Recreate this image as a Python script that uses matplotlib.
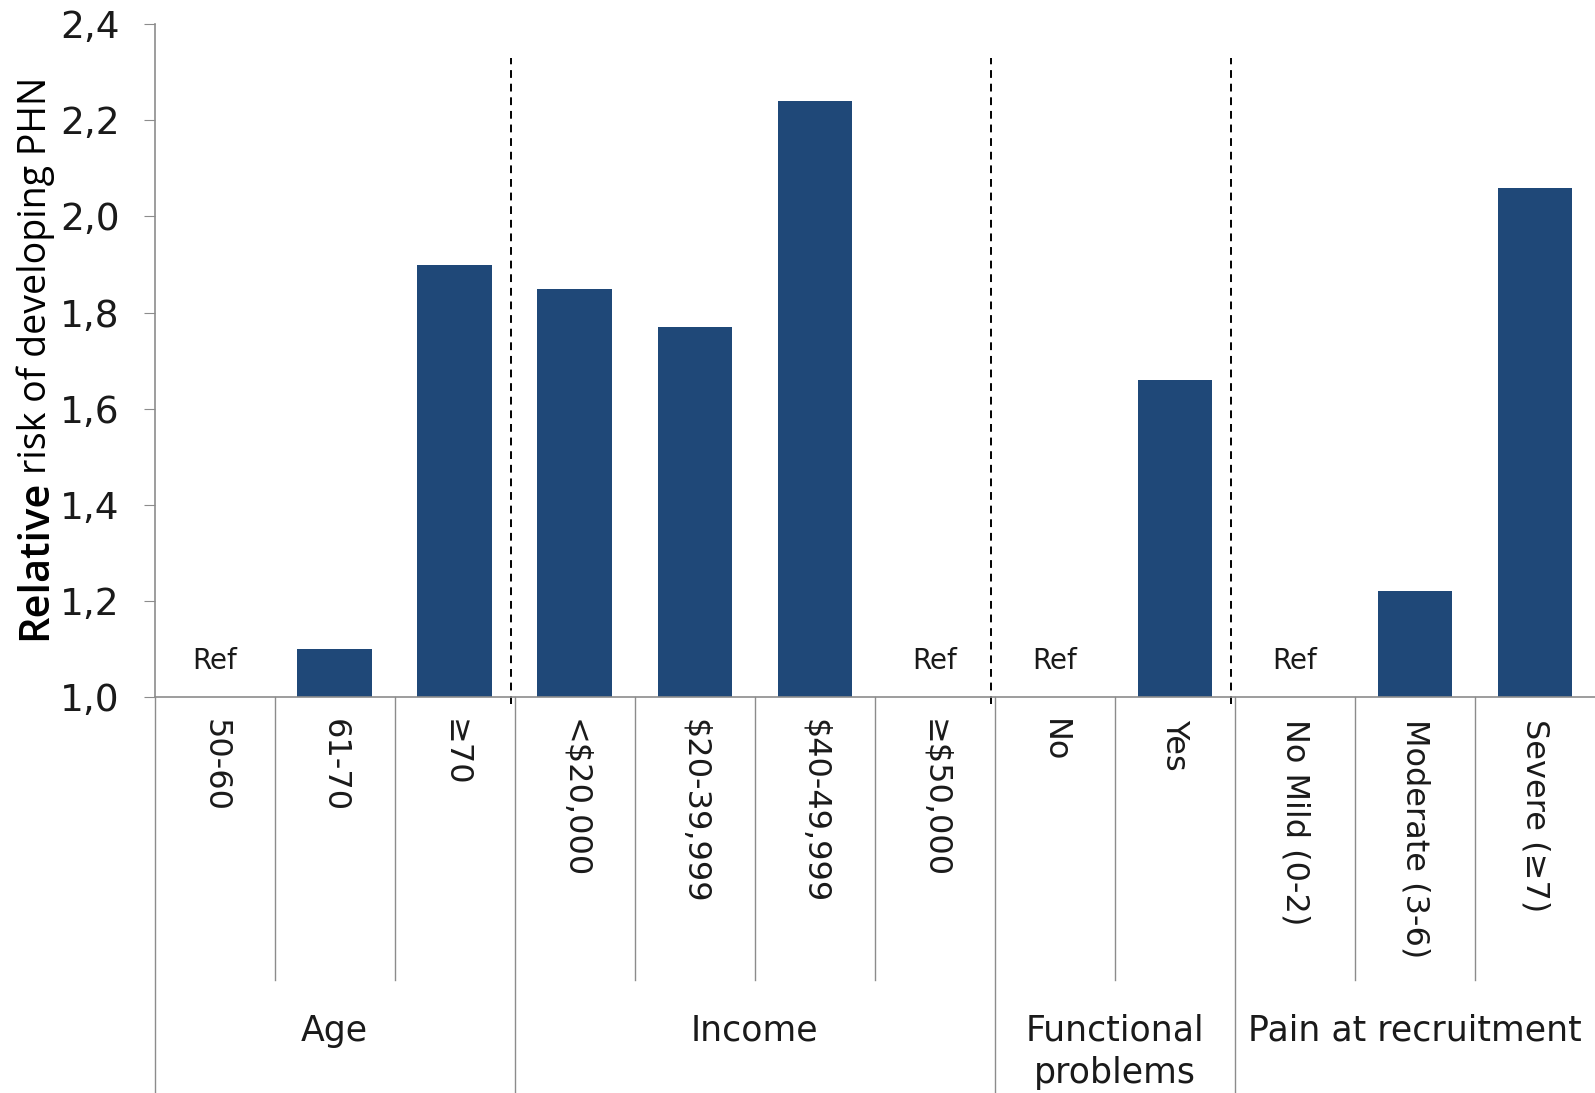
import numpy as np
import matplotlib
matplotlib.use('Agg')
import matplotlib.pyplot as plt
from matplotlib.ticker import FuncFormatter

categories = ['50-60', '61-70', '≥70',
              '<$20,000', '$20-39,999', '$40-49,999', '≥$50,000',
              'No', 'Yes',
              'No Mild (0-2)', 'Moderate (3-6)', 'Severe (≥7)']
risk = [1.0, 1.10, 1.90, 1.85, 1.77, 2.24, 1.0, 1.0, 1.66, 1.0, 1.22, 2.06]
is_ref = [True, False, False, False, False, False, True, True, False, True, False, False]
groups = ['Age', 'Income', 'Functional\nproblems', 'Pain at recruitment']
group_sizes = [3, 4, 2, 3]

bar_color = '#1f4878'
grey = '#8c8c8c'

plt.rcParams['font.family'] = ['DejaVu Sans']

fig = plt.figure(figsize=(15.95, 10.93), dpi=100)
ax = fig.add_axes([0.0969, 0.3625, 0.9031, 0.6152])

x = np.arange(len(categories))
ax.bar(x, np.array(risk) - 1.0, bottom=1.0, width=0.62, color=bar_color)

ax.set_xlim(-0.5, len(categories) - 0.5)
ax.set_ylim(1.0, 2.4)
ax.set_yticks(np.arange(1.0, 2.41, 0.2))
ax.yaxis.set_major_formatter(FuncFormatter(lambda v, p: f'{v:.1f}'.replace('.', ',')))
ax.tick_params(axis='y', length=8, color=grey, labelsize=27, pad=17, labelcolor='#1a1a1a')

ax.set_xticks(x)
ax.set_xticklabels(categories, rotation=270, fontsize=23, color='#1a1a1a')
ax.tick_params(axis='x', length=0, pad=16)

for s in ['top', 'right']:
    ax.spines[s].set_visible(False)
for s in ['left', 'bottom']:
    ax.spines[s].set_color(grey)
    ax.spines[s].set_linewidth(1.2)

# Ref labels
for i, r in enumerate(is_ref):
    if r:
        ax.text(i, 1.075, 'Ref', ha='center', va='center', fontsize=20, color='#1a1a1a')

# separators under the axis
tr = ax.get_xaxis_transform()
bounds = np.cumsum([0] + group_sizes) - 0.5
for b in np.arange(-0.5, len(categories) - 0.5, 1.0):
    if b in bounds:
        ax.plot([b, b], [0, -0.6], transform=tr, color=grey, lw=1.0, clip_on=False)
    else:
        ax.plot([b, b], [0, -0.4206], transform=tr, color=grey, lw=1.0, clip_on=False)

# dashed group dividers
for b in bounds[1:-1]:
    ax.plot([b - 0.03, b - 0.03], [0.985, 2.33], color='black', lw=1.4,
            linestyle=(0, (4, 3)), clip_on=False)

# group labels
for g, a, n in zip(groups, bounds[:-1], group_sizes):
    c = a + n / 2.0
    if '\n' in g:
        ax.text(c, -0.528, g, transform=tr, ha='center', va='center', fontsize=25,
                linespacing=1.3, color='#1a1a1a')
    else:
        ax.text(c, -0.497, g, transform=tr, ha='center', va='center', fontsize=25,
                color='#1a1a1a')

# y label with bigger first word
t1 = fig.text(46 / 1595, 1 - 640 / 1093, 'Relative', rotation=90, rotation_mode='anchor',
              ha='left', va='baseline', fontsize=30, fontweight='semibold',
              family='Open Sans', color='black')
fig.canvas.draw()
bb = t1.get_window_extent(fig.canvas.get_renderer())
fig.text(46 / 1595, (bb.y1 + 6) / fig.bbox.height, 'risk of developing PHN', rotation=90,
         rotation_mode='anchor', ha='left', va='baseline', fontsize=27,
         family='Open Sans', color='black')

fig.savefig('out.png', dpi=100)
